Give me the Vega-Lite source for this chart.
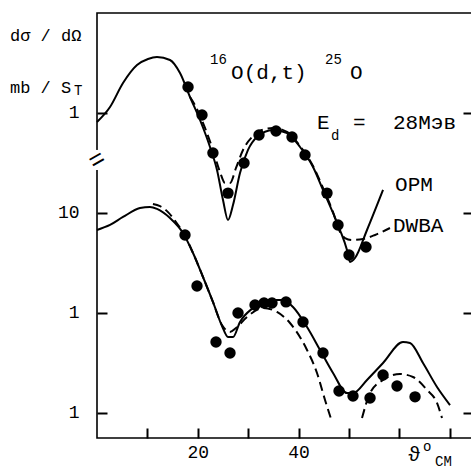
{
  "$schema": "https://vega.github.io/schema/vega-lite/v6.json",
  "width": 376,
  "height": 425,
  "autosize": {"type": "none"},
  "padding": {"left": 97, "top": 13, "right": -2, "bottom": 34},
  "background": "white",
  "config": {
    "view": {"stroke": "black", "strokeWidth": 1.6},
    "font": "Liberation Mono",
    "axis": {
      "domain": false, "tickColor": "black", "tickWidth": 2,
      "labelColor": "black", "labelFont": "Liberation Mono", "labelFontSize": 18, "grid": false, "title": null
    }
  },
  "datasets": {
    "upperSolid": [
      {"x": 0, "y": 0.813}, {"x": 2.58, "y": 1.148}, {"x": 5.16, "y": 1.995}, {"x": 7.94, "y": 3.02},
      {"x": 10.12, "y": 3.47}, {"x": 11.9, "y": 3.63}, {"x": 14.48, "y": 3.39}, {"x": 16.47, "y": 2.51},
      {"x": 18.45, "y": 1.445}, {"x": 20.44, "y": 0.851}, {"x": 22.42, "y": 0.457}, {"x": 23.81, "y": 0.269},
      {"x": 25.0, "y": 0.135}, {"x": 25.99, "y": 0.0851}, {"x": 26.98, "y": 0.12}, {"x": 28.37, "y": 0.251},
      {"x": 29.96, "y": 0.427}, {"x": 31.75, "y": 0.575}, {"x": 34.92, "y": 0.676}, {"x": 37.7, "y": 0.631},
      {"x": 40.28, "y": 0.457}, {"x": 42.86, "y": 0.288}, {"x": 44.84, "y": 0.17}, {"x": 46.83, "y": 0.1},
      {"x": 48.21, "y": 0.0676}, {"x": 49.6, "y": 0.0427}, {"x": 50.2, "y": 0.0324}, {"x": 51.19, "y": 0.0355},
      {"x": 53.57, "y": 0.0676}, {"x": 56.75, "y": 0.17}
    ],
    "upperDash": [
      {"x": 18.45, "y": 1.445}, {"x": 19.44, "y": 1.2}, {"x": 21.43, "y": 0.708}, {"x": 23.0, "y": 0.427},
      {"x": 24.4, "y": 0.257}, {"x": 25.4, "y": 0.1995}, {"x": 26.4, "y": 0.1995}, {"x": 27.58, "y": 0.282},
      {"x": 28.97, "y": 0.427}, {"x": 30.75, "y": 0.575}, {"x": 32.7, "y": 0.676}, {"x": 34.92, "y": 0.708},
      {"x": 37.7, "y": 0.646}, {"x": 40.28, "y": 0.468}, {"x": 42.86, "y": 0.295}, {"x": 44.84, "y": 0.178},
      {"x": 46.83, "y": 0.102}, {"x": 48.21, "y": 0.0646}, {"x": 49.2, "y": 0.0562}, {"x": 50.6, "y": 0.0537},
      {"x": 52.78, "y": 0.055}, {"x": 55.16, "y": 0.0603}, {"x": 58.13, "y": 0.0708}
    ],
    "upperPts": [
      {"x": 18.06, "y": 1.82}, {"x": 20.83, "y": 0.955}, {"x": 23.0, "y": 0.398}, {"x": 25.99, "y": 0.158},
      {"x": 29.17, "y": 0.316}, {"x": 32.14, "y": 0.603}, {"x": 35.52, "y": 0.661}, {"x": 38.69, "y": 0.575},
      {"x": 41.27, "y": 0.38}, {"x": 45.63, "y": 0.158}, {"x": 47.82, "y": 0.0759}, {"x": 50.0, "y": 0.038},
      {"x": 53.37, "y": 0.0457}
    ],
    "lowerSolid": [
      {"x": 0, "y": 6.76}, {"x": 2.58, "y": 7.59}, {"x": 5.16, "y": 9.12}, {"x": 8.53, "y": 11.2},
      {"x": 10.5, "y": 11.5}, {"x": 11.9, "y": 11.0}, {"x": 14.48, "y": 8.91}, {"x": 17.06, "y": 6.31},
      {"x": 19.05, "y": 3.98}, {"x": 21.03, "y": 2.29}, {"x": 23.0, "y": 1.29}, {"x": 24.8, "y": 0.741},
      {"x": 25.99, "y": 0.575}, {"x": 26.98, "y": 0.575}, {"x": 28.37, "y": 0.813}, {"x": 30.95, "y": 1.122},
      {"x": 33.73, "y": 1.35}, {"x": 36.9, "y": 1.35}, {"x": 38.89, "y": 1.148}, {"x": 41.67, "y": 0.724},
      {"x": 44.25, "y": 0.427}, {"x": 46.83, "y": 0.251}, {"x": 49.6, "y": 0.158}, {"x": 50.79, "y": 0.158},
      {"x": 53.57, "y": 0.214}, {"x": 56.75, "y": 0.316}, {"x": 60.71, "y": 0.513}, {"x": 62.1, "y": 0.501},
      {"x": 64.68, "y": 0.316}, {"x": 67.46, "y": 0.182}, {"x": 70.04, "y": 0.12}
    ],
    "lowerDash": [
      {"seg": 1, "x": 11.1, "y": 12.3}, {"seg": 1, "x": 12.5, "y": 11.7}, {"seg": 1, "x": 14.09, "y": 10.2},
      {"seg": 1, "x": 15.67, "y": 8.13}, {"seg": 1, "x": 17.46, "y": 5.89}, {"seg": 1, "x": 19.05, "y": 3.98},
      {"seg": 1, "x": 21.03, "y": 2.29}, {"seg": 1, "x": 23.0, "y": 1.29}, {"seg": 1, "x": 24.8, "y": 0.759},
      {"seg": 1, "x": 26.39, "y": 0.646}, {"seg": 1, "x": 27.58, "y": 0.708}, {"seg": 1, "x": 29.76, "y": 0.912},
      {"seg": 1, "x": 32.94, "y": 1.122}, {"seg": 1, "x": 35.71, "y": 1.023}, {"seg": 1, "x": 38.29, "y": 0.794},
      {"seg": 1, "x": 41.67, "y": 0.427}, {"seg": 1, "x": 43.65, "y": 0.251}, {"seg": 1, "x": 45.24, "y": 0.135},
      {"seg": 1, "x": 46.63, "y": 0.0813},
      {"seg": 2, "x": 52.58, "y": 0.0891}, {"seg": 2, "x": 54.17, "y": 0.158}, {"seg": 2, "x": 56.75, "y": 0.214},
      {"seg": 2, "x": 60.12, "y": 0.245}, {"seg": 2, "x": 62.7, "y": 0.229}, {"seg": 2, "x": 65.48, "y": 0.17},
      {"seg": 2, "x": 67.46, "y": 0.126}, {"seg": 2, "x": 68.45, "y": 0.0891}
    ],
    "lowerPts": [
      {"x": 17.46, "y": 6.03}, {"x": 19.84, "y": 1.86}, {"x": 23.61, "y": 0.513}, {"x": 26.39, "y": 0.398},
      {"x": 27.98, "y": 1.0}, {"x": 31.35, "y": 1.2}, {"x": 33.13, "y": 1.259}, {"x": 34.72, "y": 1.259},
      {"x": 37.5, "y": 1.29}, {"x": 40.87, "y": 0.813}, {"x": 44.84, "y": 0.398}, {"x": 48.02, "y": 0.166},
      {"x": 50.79, "y": 0.148}, {"x": 54.17, "y": 0.141}, {"x": 56.75, "y": 0.24}, {"x": 59.52, "y": 0.186},
      {"x": 63.1, "y": 0.145}
    ],
    "textLeft": [
      {"x": -17.26, "y": 589, "text": "dσ / dΩ"},
      {"x": -17.26, "y": 178, "text": "mb / S"}
    ],
    "textMain": [
      {"x": 26.6, "y": 251, "text": "O(d,t)"},
      {"x": 50.2, "y": 251, "text": "O"},
      {"x": 43.65, "y": 79.4, "text": "E"},
      {"x": 50.79, "y": 79.4, "text": "="},
      {"x": 58.73, "y": 79.4, "text": "28Мэв"},
      {"x": 59.13, "y": 19.05, "text": "OPM"},
      {"x": 58.73, "y": 7.41, "text": "DWBA"},
      {"x": 61.71, "y": 0.038, "text": "ϑ"}
    ],
    "textSub": [
      {"x": 22.42, "y": 339, "text": "16"},
      {"x": 45.24, "y": 339, "text": "25"},
      {"x": 46.43, "y": 58.9, "text": "d"},
      {"x": -4.56, "y": 166, "text": "T"},
      {"x": 64.68, "y": 0.0457, "text": "o"},
      {"x": 67.06, "y": 0.0324, "text": "CM"}
    ],
    "axisBreak": [{"x": 0, "y": 26.9, "y2": 42.7, "mid": 33.9, "text": "="}]
  },
  "encoding": {
    "x": {"field": "x", "type": "quantitative", "scale": {"domain": [0, 74.6], "nice": false, "zero": false},
      "axis": {"orient": "bottom", "offset": -10, "values": [10, 20, 30, 40, 50, 60, 70],
        "labelExpr": "datum.value == 20 || datum.value == 40 ? datum.label : ''",
        "ticks": true, "tickSize": 10, "labelPadding": 5}}
  },
  "layer": [
    {
      "encoding": {
        "y": {"field": "y", "type": "quantitative", "scale": {"type": "log", "domain": [0.0562, 1000], "nice": false},
          "axis": {"orient": "left", "offset": -10, "values": [0.1, 1, 10, 100],
            "labelExpr": "datum.value > 50 || datum.value < 0.5 ? '1' : datum.label",
            "ticks": true, "tickSize": 10, "labelPadding": 18}}
      },
      "layer": [
        {"data": {"name": "lowerSolid"}, "mark": {"type": "line", "color": "black", "strokeWidth": 2, "interpolate": "monotone"}},
        {"data": {"name": "lowerDash"}, "mark": {"type": "line", "color": "black", "strokeWidth": 2, "strokeDash": [9, 5], "interpolate": "monotone"},
          "encoding": {"detail": {"field": "seg", "type": "nominal"}}},
        {"data": {"name": "lowerPts"}, "mark": {"type": "circle", "color": "black", "opacity": 1, "size": 130}},
        {"data": {"name": "textLeft"}, "mark": {"type": "text", "align": "left", "baseline": "middle", "fontSize": 17, "font": "Liberation Mono", "color": "black"},
          "encoding": {"text": {"field": "text"}}},
        {"data": {"name": "textMain"}, "mark": {"type": "text", "align": "left", "baseline": "middle", "fontSize": 21, "font": "Liberation Mono", "color": "black"},
          "encoding": {"text": {"field": "text"}}},
        {"data": {"name": "textSub"}, "mark": {"type": "text", "align": "left", "baseline": "middle", "fontSize": 14, "font": "Liberation Mono", "color": "black"},
          "encoding": {"text": {"field": "text"}}},
        {"data": {"name": "axisBreak"}, "mark": {"type": "rule", "color": "white", "strokeWidth": 6},
          "encoding": {"y2": {"field": "y2"}}}
      ]
    },
    {
      "encoding": {
        "y": {"field": "y", "type": "quantitative", "scale": {"type": "log", "domain": [0.000562, 10], "nice": false},
          "axis": {"orient": "right", "offset": -10, "values": [0.001, 0.01, 0.1, 1], "labels": false, "ticks": true, "tickSize": 10}}
      },
      "layer": [
        {"data": {"name": "upperSolid"}, "mark": {"type": "line", "color": "black", "strokeWidth": 2, "interpolate": "monotone"}},
        {"data": {"name": "upperDash"}, "mark": {"type": "line", "color": "black", "strokeWidth": 2, "strokeDash": [9, 5], "interpolate": "monotone"}},
        {"data": {"name": "upperPts"}, "mark": {"type": "circle", "color": "black", "opacity": 1, "size": 130}}
      ]
    },
    {"data": {"name": "axisBreak"}, "mark": {"type": "text", "fontSize": 26, "angle": -30, "align": "center", "baseline": "middle", "color": "black", "font": "Liberation Mono"},
      "encoding": {
        "y": {"field": "mid", "type": "quantitative", "scale": {"type": "log", "domain": [0.0562, 1000], "nice": false}, "axis": null},
        "text": {"field": "text"}
      }}
  ],
  "resolve": {"scale": {"y": "independent"}, "axis": {"y": "independent"}}
}
